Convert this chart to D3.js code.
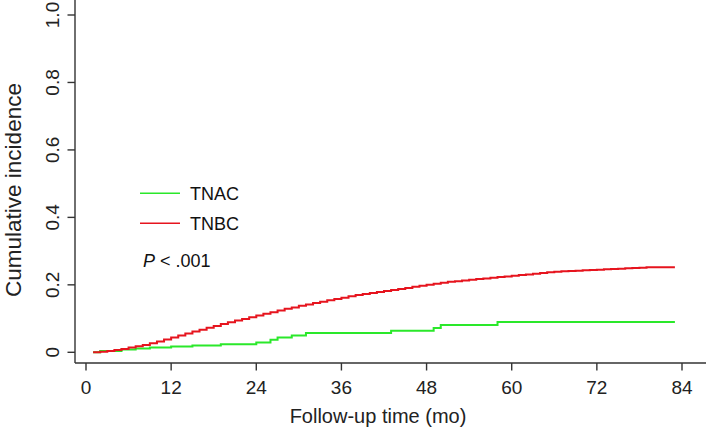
<!DOCTYPE html>
<html>
<head>
<meta charset="utf-8">
<script src="https://cdn.jsdelivr.net/npm/d3@7"></script>
<style>
  body { margin: 0; background: #fff; }
  svg { display: block; font-family: "Liberation Sans", Arial, sans-serif; }
</style>
</head>
<body>
<svg id="chart" width="709" height="433"></svg>
<script>
// tick labels
var xTicks = [0, 12, 24, 36, 48, 60, 72, 84];
var yTicks = [0, 0.2, 0.4, 0.6, 0.8, 1.0];
var yTickLabels = ["0", "0.2", "0.4", "0.6", "0.8", "1.0"];

// series names
var seriesNames = ["TNAC", "TNBC"];
var seriesColors = ["#2ae82a", "#e6141e"];

// TNAC cumulative incidence (step function, months)
var tnacTime  = [1, 2, 5, 7, 9, 12, 15, 19, 24, 26, 27, 29, 31, 43, 49, 50, 58, 83];
var tnacValue = [0, 0.004, 0.008, 0.011, 0.014, 0.017, 0.020, 0.024, 0.029, 0.037, 0.044, 0.050, 0.057, 0.064, 0.072, 0.081, 0.090, 0.090];

// TNBC cumulative incidence, read month by month (1..83)
var tnbcTime = d3.range(1, 84);
var tnbcValue = [
    0.000, 0.002, 0.004, 0.007, 0.010, 0.014, 0.018, 0.022, 0.027, 0.032,
    0.038, 0.044, 0.050, 0.056, 0.062, 0.067, 0.073, 0.078, 0.084, 0.089,
    0.094, 0.099, 0.104, 0.109, 0.114, 0.119, 0.124, 0.129, 0.133, 0.138,
    0.142, 0.146, 0.150, 0.154, 0.158, 0.162, 0.166, 0.170, 0.173, 0.176,
    0.179, 0.182, 0.185, 0.188, 0.191, 0.194, 0.197, 0.200, 0.203, 0.206,
    0.209, 0.211, 0.213, 0.215, 0.217, 0.219, 0.221, 0.223, 0.225, 0.227,
    0.229, 0.231, 0.233, 0.235, 0.237, 0.239, 0.240, 0.241, 0.242, 0.243,
    0.244, 0.245, 0.246, 0.247, 0.248, 0.249, 0.250, 0.251, 0.252, 0.252,
    0.252, 0.252, 0.252
];

var svg = d3.select("#chart");

// plot frame
var axisX = 75, axisY = 363;
var x = d3.scaleLinear().domain([0, 84]).range([86, 682]);
var y = d3.scaleLinear().domain([0, 1]).range([352.3, 15]);

function toPoints(times, values) {
    return times.map(function(t, i) { return [t, values[i]]; });
}

var line = d3.line()
    .x(function(d) { return x(d[0]); })
    .y(function(d) { return y(d[1]); })
    .curve(d3.curveStepAfter);

var series = [toPoints(tnacTime, tnacValue), toPoints(tnbcTime, tnbcValue)];

// draw TNAC then TNBC (red on top)
series.forEach(function(s, i) {
    svg.append("path")
        .datum(s)
        .attr("d", line)
        .attr("fill", "none")
        .attr("stroke", seriesColors[i])
        .attr("stroke-width", 2);
});

// axes lines (L-shaped box)
svg.append("line")
    .attr("x1", axisX).attr("x2", axisX)
    .attr("y1", 0).attr("y2", axisY)
    .attr("stroke", "#333").attr("stroke-width", 1.4);
svg.append("line")
    .attr("x1", axisX).attr("x2", 706)
    .attr("y1", axisY).attr("y2", axisY)
    .attr("stroke", "#333").attr("stroke-width", 1.4);

// y ticks
yTicks.forEach(function(t, i) {
    svg.append("line")
        .attr("x1", axisX - 7.5).attr("x2", axisX)
        .attr("y1", y(t)).attr("y2", y(t))
        .attr("stroke", "#333").attr("stroke-width", 1.4);
    svg.append("text")
        .attr("transform", "translate(" + 59 + "," + y(t) + ") rotate(-90)")
        .attr("text-anchor", "middle")
        .attr("font-size", 19)
        .attr("fill", "#222")
        .text(yTickLabels[i]);
});

// x ticks
xTicks.forEach(function(t) {
    svg.append("line")
        .attr("x1", x(t)).attr("x2", x(t))
        .attr("y1", axisY).attr("y2", axisY + 7.5)
        .attr("stroke", "#333").attr("stroke-width", 1.4);
    svg.append("text")
        .attr("x", x(t)).attr("y", 394)
        .attr("text-anchor", "middle")
        .attr("font-size", 19)
        .attr("fill", "#222")
        .text(t);
});

// axis titles
svg.append("text")
    .attr("x", 378).attr("y", 423)
    .attr("text-anchor", "middle")
    .attr("font-size", 20)
    .attr("fill", "#222")
    .text("Follow-up time (mo)");

svg.append("text")
    .attr("transform", "translate(21,190) rotate(-90)")
    .attr("text-anchor", "middle")
    .attr("font-size", 22.5)
    .attr("fill", "#222")
    .text("Cumulative incidence");

// legend
var legendY = [193.3, 223.3];
seriesNames.forEach(function(name, i) {
    svg.append("line")
        .attr("x1", 140).attr("x2", 180)
        .attr("y1", legendY[i]).attr("y2", legendY[i])
        .attr("stroke", seriesColors[i]).attr("stroke-width", 1.5);
    svg.append("text")
        .attr("x", 190).attr("y", legendY[i] + 6.7)
        .attr("font-size", 18)
        .attr("fill", "#111")
        .text(name);
});

var pText = svg.append("text")
    .attr("x", 143).attr("y", 267)
    .attr("font-size", 18)
    .attr("fill", "#111");
pText.append("tspan").attr("font-style", "italic").text("P");
pText.append("tspan").text(" < .001");
</script>
</body>
</html>
